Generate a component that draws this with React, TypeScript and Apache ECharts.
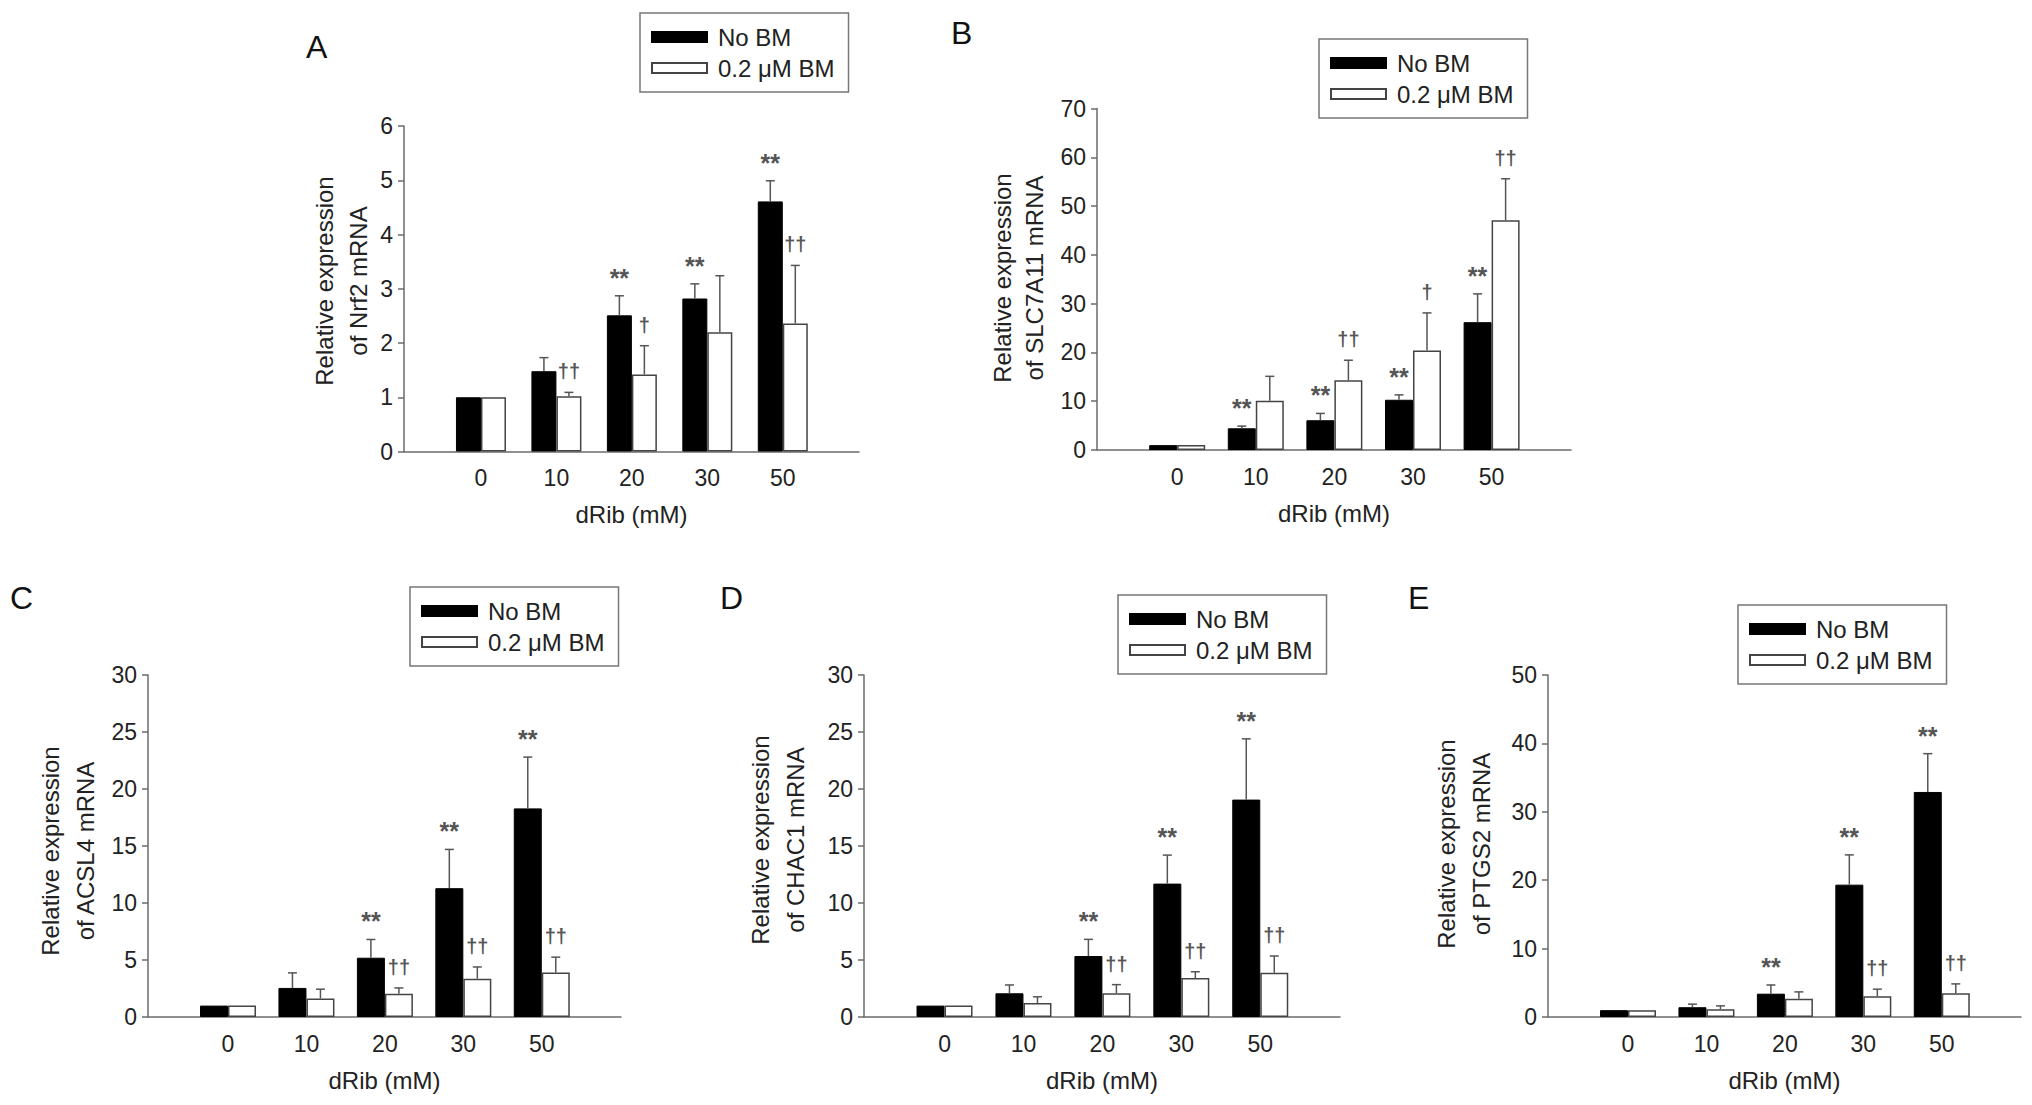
import React, { useEffect, useRef } from 'react';
import * as echarts from 'echarts';

// dRib concentrations (mM)
const categories = ['0', '10', '20', '30', '50'];

// A - Nrf2
const nrf2NoBM = [1.0, 1.48, 2.51, 2.82, 4.61];
const nrf2NoBMErr = [0, 0.25, 0.36, 0.27, 0.38];
const nrf2BM = [1.0, 1.02, 1.42, 2.2, 2.36];
const nrf2BMErr = [0, 0.07, 0.53, 1.04, 1.07];
const nrf2NoBMMarks = ['', '', '**', '**', '**'];
const nrf2BMMarks = ['', '††', '†', '', '††'];

// B - SLC7A11
const slcNoBM = [1.0, 4.45, 6.1, 10.3, 26.2];
const slcNoBMErr = [0, 0.45, 1.4, 1.0, 5.8];
const slcBM = [1.0, 10.1, 14.3, 20.4, 47.1];
const slcBMErr = [0, 5.0, 4.1, 7.7, 8.5];
const slcNoBMMarks = ['', '**', '**', '**', '**'];
const slcBMMarks = ['', '', '††', '†', '††'];

// C - ACSL4
const acslNoBM = [1.0, 2.55, 5.2, 11.3, 18.3];
const acslNoBMErr = [0, 1.32, 1.6, 3.4, 4.5];
const acslBM = [1.0, 1.63, 2.03, 3.36, 3.9];
const acslBMErr = [0, 0.81, 0.52, 1.03, 1.35];
const acslNoBMMarks = ['', '', '**', '**', '**'];
const acslBMMarks = ['', '', '††', '††', '††'];

// D - CHAC1
const chacNoBM = [1.0, 2.08, 5.35, 11.7, 19.07];
const chacNoBMErr = [0, 0.73, 1.46, 2.5, 5.33];
const chacBM = [1.0, 1.22, 2.08, 3.42, 3.88];
const chacBMErr = [0, 0.55, 0.76, 0.55, 1.47];
const chacNoBMMarks = ['', '', '**', '**', '**'];
const chacBMMarks = ['', '', '††', '††', '††'];

// E - PTGS2
const ptgsNoBM = [1.0, 1.43, 3.41, 19.35, 32.9];
const ptgsNoBMErr = [0, 0.45, 1.27, 4.35, 5.6];
const ptgsBM = [1.0, 1.12, 2.65, 3.05, 3.46];
const ptgsBMErr = [0, 0.51, 1.02, 1.02, 1.38];
const ptgsNoBMMarks = ['', '', '**', '**', '**'];
const ptgsBMMarks = ['', '', '', '††', '††'];

const FONT = 'Liberation Sans, Arial, Helvetica, sans-serif';
const AXIS = '#6b6b6b';
const TEXT = '#222';
const ERR = '#555';

const panels = [
  {
    letter: 'A', gene: 'Nrf2', noBM: nrf2NoBM, noBMErr: nrf2NoBMErr, bm: nrf2BM, bmErr: nrf2BMErr,
    noBMMarks: nrf2NoBMMarks, bmMarks: nrf2BMMarks, yMax: 6, yInterval: 1,
    grid: { left: 404, top: 126, width: 455, height: 325.5 }, barWidth: 25,
    letterPos: [306, 47], titleX: [324, 358], titleY: 281, legendPos: [640, 13],
  },
  {
    letter: 'B', gene: 'SLC7A11', noBM: slcNoBM, noBMErr: slcNoBMErr, bm: slcBM, bmErr: slcBMErr,
    noBMMarks: slcNoBMMarks, bmMarks: slcBMMarks, yMax: 70, yInterval: 10,
    grid: { left: 1097, top: 108.5, width: 474, height: 341.5 }, barWidth: 28,
    letterPos: [951, 33], titleX: [1002, 1034], titleY: 278, legendPos: [1319, 39],
  },
  {
    letter: 'C', gene: 'ACSL4', noBM: acslNoBM, noBMErr: acslNoBMErr, bm: acslBM, bmErr: acslBMErr,
    noBMMarks: acslNoBMMarks, bmMarks: acslBMMarks, yMax: 30, yInterval: 5,
    grid: { left: 148, top: 675, width: 473, height: 342 }, barWidth: 28,
    letterPos: [10, 598], titleX: [50, 85], titleY: 851, legendPos: [410, 587],
  },
  {
    letter: 'D', gene: 'CHAC1', noBM: chacNoBM, noBMErr: chacNoBMErr, bm: chacBM, bmErr: chacBMErr,
    noBMMarks: chacNoBMMarks, bmMarks: chacBMMarks, yMax: 30, yInterval: 5,
    grid: { left: 864, top: 675, width: 476, height: 342 }, barWidth: 28,
    letterPos: [720, 598], titleX: [760, 795], titleY: 840, legendPos: [1118, 595],
  },
  {
    letter: 'E', gene: 'PTGS2', noBM: ptgsNoBM, noBMErr: ptgsNoBMErr, bm: ptgsBM, bmErr: ptgsBMErr,
    noBMMarks: ptgsNoBMMarks, bmMarks: ptgsBMMarks, yMax: 50, yInterval: 10,
    grid: { left: 1548, top: 675, width: 473, height: 342 }, barWidth: 28,
    letterPos: [1408, 598], titleX: [1446, 1481], titleY: 844, legendPos: [1738, 605],
  },
];

// error bar + significance mark, drawn above one bar of the pair
const errorSeries = (k: number, values: number[], errs: number[], marks: string[], offset: number) => ({
  type: 'custom',
  xAxisIndex: k,
  yAxisIndex: k,
  z: 3,
  clip: false,
  silent: true,
  data: values.map((v, i) => [i, v, errs[i]]),
  renderItem: (params: any, api: any) => {
    const i = api.value(0);
    const v = api.value(1);
    const e = api.value(2);
    const base = api.coord([i, v]);
    const top = api.coord([i, v + e]);
    const x = base[0] + offset;
    const children: any[] = [];
    if (e > 0) {
      children.push({
        type: 'line',
        shape: { x1: x, y1: base[1], x2: x, y2: top[1] },
        style: { stroke: ERR, lineWidth: 1.5 },
      });
      children.push({
        type: 'line',
        shape: { x1: x - 4.5, y1: top[1], x2: x + 4.5, y2: top[1] },
        style: { stroke: ERR, lineWidth: 1.5 },
      });
    }
    const mark = marks[params.dataIndex];
    if (mark) {
      const star = mark === '**';
      children.push({
        type: 'text',
        style: {
          text: mark, x, y: top[1] - (star ? 18 : 21),
          align: 'center', verticalAlign: 'middle',
          textAlign: 'center', textVerticalAlign: 'middle',
          fontSize: star ? 25 : 20, fontFamily: FONT, fontWeight: 'bold', fill: '#555',
        },
      });
    }
    return { type: 'group', children };
  },
});

const App: React.FC = () => {
  const chartRef = useRef<HTMLDivElement>(null);

  useEffect(() => {
    if (!chartRef.current) return;
    const chart = echarts.init(chartRef.current, null, { renderer: 'svg' });

    const series: any[] = [];
    panels.forEach((p, k) => {
      series.push({
        type: 'bar', name: 'No BM', xAxisIndex: k, yAxisIndex: k,
        data: p.noBM.map((v, i) => [i, v]),
        barWidth: p.barWidth, barGap: '0%',
        itemStyle: { color: '#000', borderColor: '#000', borderWidth: 1 },
      });
      series.push({
        type: 'bar', name: '0.2 μM BM', xAxisIndex: k, yAxisIndex: k,
        data: p.bm.map((v, i) => [i, v]),
        barWidth: p.barWidth, barGap: '0%',
        itemStyle: { color: '#fff', borderColor: '#444', borderWidth: 1.5 },
      });
      series.push(errorSeries(k, p.noBM, p.noBMErr, p.noBMMarks, -p.barWidth / 2));
      series.push(errorSeries(k, p.bm, p.bmErr, p.bmMarks, p.barWidth / 2));
    });

    const graphic: any[] = [];
    panels.forEach((p) => {
      graphic.push({
        type: 'text', x: p.letterPos[0], y: p.letterPos[1],
        style: {
          text: p.letter, fontSize: 32, fontFamily: FONT, fill: '#111',
          align: 'left', verticalAlign: 'middle', textAlign: 'left', textVerticalAlign: 'middle',
        },
      });
      ['Relative expression', `of ${p.gene} mRNA`].forEach((line, j) => {
        graphic.push({
          type: 'text', x: p.titleX[j], y: p.titleY, rotation: Math.PI / 2,
          style: {
            text: line, fontSize: 24, fontFamily: FONT, fill: TEXT,
            align: 'center', verticalAlign: 'middle', textAlign: 'center', textVerticalAlign: 'middle',
          },
        });
      });
    });

    chart.setOption({
      animation: false,
      backgroundColor: '#fff',
      grid: panels.map((p) => ({ ...p.grid, containLabel: false })),
      xAxis: panels.map((p, k) => ({
        gridIndex: k,
        type: 'value',
        min: -1.02,
        max: 5.01,
        axisLine: { show: true, onZero: false, lineStyle: { color: AXIS, width: 1.5 } },
        axisTick: { show: false },
        splitLine: { show: false },
        axisLabel: {
          customValues: [0, 1, 2, 3, 4],
          formatter: (v: number) => categories[Math.round(v)] ?? '',
          fontSize: 23, fontFamily: FONT, color: TEXT, margin: 15,
        },
        name: 'dRib (mM)',
        nameLocation: 'middle',
        nameGap: 51,
        nameTextStyle: { fontSize: 24, fontFamily: FONT, color: TEXT },
      })),
      yAxis: panels.map((p, k) => ({
        gridIndex: k,
        type: 'value',
        min: 0,
        max: p.yMax,
        interval: p.yInterval,
        axisLine: { show: true, onZero: false, lineStyle: { color: AXIS, width: 1.5 } },
        axisTick: { show: true, length: 6, lineStyle: { color: AXIS, width: 1.5 } },
        splitLine: { show: false },
        axisLabel: { fontSize: 23, fontFamily: FONT, color: TEXT, margin: 11 },
      })),
      legend: panels.map((p) => ({
        left: p.legendPos[0],
        top: p.legendPos[1],
        orient: 'vertical',
        data: ['No BM', '0.2 μM BM'],
        icon: 'rect',
        itemWidth: 55,
        itemHeight: 10,
        itemGap: 7,
        padding: [12, 14, 12, 11],
        borderColor: '#777',
        borderWidth: 1.5,
        selectedMode: false,
        textStyle: { fontSize: 24, fontFamily: FONT, color: TEXT, padding: [0, 0, 0, 6] },
      })),
      graphic,
      series,
    });

    return () => {
      chart.dispose();
    };
  }, []);

  return (
    <div
      ref={chartRef}
      style={{ position: 'absolute', left: 0, top: 0, width: '2032px', height: '1105px', background: '#fff' }}
    />
  );
};

export default App;
